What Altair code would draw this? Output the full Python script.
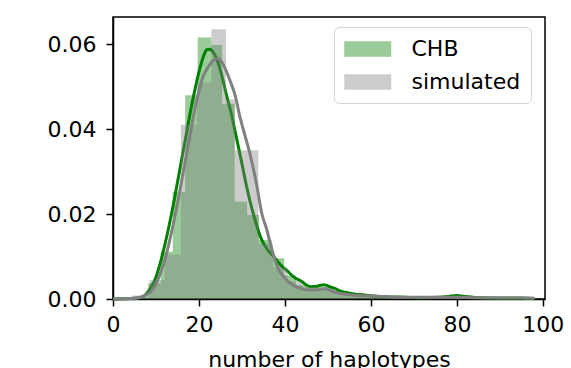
import altair as alt
import pandas as pd

# ---- histogram bins (density) ----
chb_edges = [5.3, 8.2, 11.1, 13.9, 16.8, 19.7, 22.9, 25.4, 28.3, 31.2,
             34.0, 36.9, 39.8, 42.6, 45.5, 48.4, 51.2, 54.1, 57.0, 59.9,
             62.7, 65.6, 68.5, 71.3, 74.2, 77.1, 79.9, 82.8, 85.6, 88.5,
             91.4, 94.2, 97.1]
chb_density = [0.0004, 0.0037, 0.0111, 0.0252, 0.048, 0.0616, 0.0598, 0.046, 0.0229, 0.0198,
               0.0139, 0.0096, 0.0056, 0.0033, 0.0030, 0.0028, 0.0015, 0.0012, 0.0008, 0.0005,
               0.0004, 0.0003, 0.0002, 0.0003, 0.0004, 0.0008, 0.0004, 0.0002, 0.0001, 0.0001,
               0.0001, 0.0001]

sim_edges = [4.5, 8.5, 12.0, 15.8, 19.5, 22.9, 26.3, 28.4, 31.1, 33.8,
             37.2, 40.6, 44.0, 47.4, 50.8, 54.2, 57.6, 61.0, 64.4, 67.8,
             71.2, 74.6, 78.0, 81.4, 84.8, 88.2, 91.6, 95.0, 98.4]
sim_density = [0.0008, 0.0045, 0.0105, 0.041, 0.051, 0.0635, 0.047, 0.035, 0.035, 0.013,
               0.0075, 0.0042, 0.0028, 0.0024, 0.0017, 0.0011, 0.0009, 0.0007, 0.0005, 0.0005,
               0.0004, 0.0004, 0.0004, 0.0004, 0.0003, 0.0003, 0.0003, 0.0003]

# ---- kernel density curves ----
chb_kde_x = [0, 4, 6, 7, 8, 9, 10, 11, 12, 13,
             14, 15, 16, 17, 18, 19, 20, 21, 21.8, 22.5,
             23.5, 24.5, 25.3, 26.4, 27.6, 28.5, 29.5, 31.1, 32.6, 34.6,
             36, 37.7, 39, 40.8, 42, 43.9, 45, 46.2, 47.5, 48.5,
             49.3, 50.5, 51.6, 52.8, 54, 56, 59, 62, 64.4, 68,
             72, 76, 78, 79.9, 82, 83.7, 86, 90, 95, 98]
chb_kde_y = [0, 0.0001, 0.0003, 0.0006, 0.0015, 0.003, 0.0052, 0.0085, 0.0125, 0.017,
             0.022, 0.0275, 0.033, 0.0385, 0.044, 0.049, 0.0535, 0.057, 0.0587, 0.0588,
             0.0578, 0.0555, 0.0527, 0.048, 0.0433, 0.039, 0.0343, 0.0264, 0.0202, 0.0139,
             0.0115, 0.0096, 0.008, 0.0064, 0.0052, 0.0041, 0.0033, 0.0029, 0.003, 0.0033,
             0.0033, 0.0029, 0.0025, 0.0019, 0.0016, 0.0012, 0.0009, 0.0006, 0.0005, 0.0004,
             0.0003, 0.0004, 0.0006, 0.0008, 0.0006, 0.0004, 0.0003, 0.0002, 0.0002, 0.0001]

sim_kde_x = [0, 4, 6, 7.5, 9, 10, 11, 12, 13, 14,
             15, 16, 17, 18, 19, 20, 21, 22.2, 23.4, 24.5,
             25.7, 27.2, 28.4, 29.5, 30.7, 31.9, 33.4, 34.6, 35.7, 36.9,
             38.4, 39.5, 40.8, 42.3, 43.9, 45.5, 47, 48.3, 49.3, 50.4,
             51.6, 54, 56, 60, 65, 70, 75, 80, 85, 90,
             95, 98]
sim_kde_y = [0, 0.0001, 0.0003, 0.0008, 0.002, 0.0035, 0.006, 0.009, 0.013, 0.0175,
             0.0225, 0.028, 0.0335, 0.039, 0.0445, 0.049, 0.0525, 0.0547, 0.0562, 0.0566,
             0.0551, 0.0515, 0.048, 0.043, 0.0385, 0.034, 0.027, 0.0202, 0.0166, 0.0119,
             0.0072, 0.0055, 0.0041, 0.003, 0.0024, 0.0021, 0.0021, 0.0023, 0.0024, 0.0021,
             0.0016, 0.0011, 0.0009, 0.0007, 0.0005, 0.0004, 0.0004, 0.0004, 0.0003, 0.0003,
             0.0003, 0.0002]

series_names = ["CHB", "simulated"]
x_ticks = [0, 20, 40, 60, 80, 100]
y_ticks = [0.0, 0.02, 0.04, 0.06]

# step outlines of the histograms: each edge carries the height of the bin that starts there
chb_bars = pd.DataFrame({"edge": chb_edges, "density": chb_density + chb_density[-1:],
                         "series": series_names[0]})
sim_bars = pd.DataFrame({"edge": sim_edges, "density": sim_density + sim_density[-1:],
                         "series": series_names[1]})
chb_kde = pd.DataFrame({"x": chb_kde_x, "y": chb_kde_y})
sim_kde = pd.DataFrame({"x": sim_kde_x, "y": sim_kde_y})

FONT = "DejaVu Sans"
FS = 22
xscale = alt.Scale(domain=[0, 100.5], nice=False, zero=False)
yscale = alt.Scale(domain=[0, 0.0664], nice=False)
color_scale = alt.Scale(domain=series_names, range=["green", "gray"])

xaxis = alt.Axis(values=x_ticks, format="d", title="number of haplotypes",
                 labelPadding=8, titlePadding=14, labelFlush=False, labelOverlap=False)
yaxis = alt.Axis(values=y_ticks, format=".2f", title=None, labelPadding=10,
                 labelFlush=False, labelOverlap=False)

legend = alt.Legend(
    title=None, orient="none", legendX=221, legendY=10,
    symbolType="M-1,-0.66H3V0.66H-1Z", symbolSize=552.25,
    symbolOpacity=0.4, symbolStrokeWidth=0,
    labelFont=FONT, labelFontSize=FS, labelColor="black", labelOffset=43.5,
    rowPadding=10, padding=10, fillColor="white", strokeColor="#d4d4d4",
    cornerRadius=5,
)


def bars(df):
    return alt.Chart(df).mark_area(opacity=0.4, interpolate="step-after").encode(
        x=alt.X("edge:Q", scale=xscale, axis=xaxis),
        y=alt.Y("density:Q", scale=yscale, axis=yaxis),
        color=alt.Color("series:N", scale=color_scale, legend=legend),
    )


def kde(df, col):
    return alt.Chart(df).mark_line(color=col, strokeWidth=3, interpolate="monotone").encode(
        x=alt.X("x:Q", scale=xscale, axis=xaxis),
        y=alt.Y("y:Q", scale=yscale, axis=yaxis),
    )


chart = alt.layer(
    bars(chb_bars), kde(chb_kde, "green"), bars(sim_bars), kde(sim_kde, "gray")
).properties(
    width=432, height=282,
    autosize=alt.AutoSizeParams(type="none"),
    padding={"left": 113, "top": 17, "right": 26, "bottom": 69},
).configure_view(
    stroke="black", strokeWidth=1.5
).configure_axis(
    labelFont=FONT, labelFontSize=FS, labelColor="black",
    titleFont=FONT, titleFontSize=FS, titleFontWeight="normal", titleColor="black",
    tickColor="black", tickWidth=1.5, tickSize=7,
    domainColor="black", domainWidth=1.5, grid=False,
)

chart.save("out.html", embed_options={"renderer": "svg", "actions": False})
